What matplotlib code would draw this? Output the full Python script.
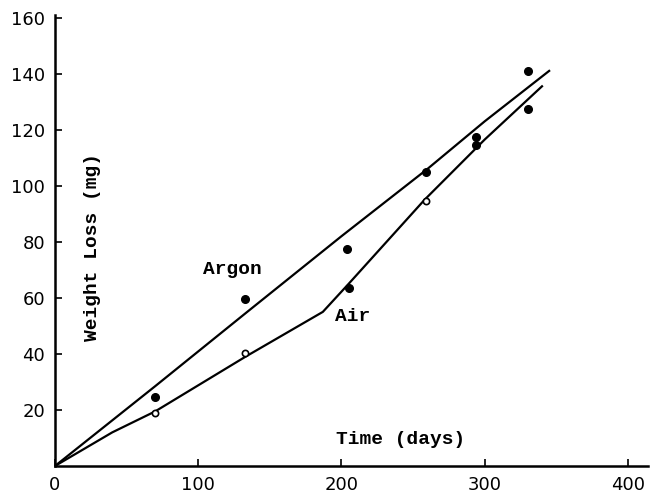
import matplotlib.pyplot as plt

# measured points
argon_days = [70, 133, 204, 259, 294, 330]
argon_loss = [24.5, 59.5, 77.5, 104.8, 117.5, 141.0]
air_days = [70, 133, 205, 259, 294, 330]
air_loss = [19.0, 40.5, 63.5, 94.5, 114.5, 127.5]
air_open = [True, True, False, True, False, False]

# hand-drawn fitted curves
argon_fit_x = [0, 70, 133, 200, 260, 300, 345]
argon_fit_y = [0, 28.5, 54.5, 82, 106, 123, 141]
air_fit_x = [0, 40, 70, 133, 187, 205, 258, 300, 340]
air_fit_y = [0, 12, 19.5, 39, 55, 65, 95, 116.5, 135.5]

xticks = [0, 100, 200, 300, 400]
yticks = [20, 40, 60, 80, 100, 120, 140, 160]

mono = ['Liberation Mono', 'DejaVu Sans Mono']

fig = plt.figure(figsize=(6.56, 4.95), dpi=100)
axes = fig.add_axes([0.0838, 0.0586, 0.904, 0.9114])

axes.plot(argon_fit_x, argon_fit_y, 'k-', lw=1.6)
axes.plot(air_fit_x, air_fit_y, 'k-', lw=1.6)

axes.plot(argon_days, argon_loss, 'ko', ms=5.5)
for x, y, is_open in zip(air_days, air_loss, air_open):
    if is_open:
        axes.plot(x, y, 'o', mfc='white', mec='k', ms=4.5, mew=1.2)
    else:
        axes.plot(x, y, 'ko', ms=5.5)

axes.text(124, 70, 'Argon', family=mono, weight='bold', fontsize=14, ha='center', va='center')
axes.text(208, 53.5, 'Air', family=mono, weight='bold', fontsize=14, ha='center', va='center')
axes.text(241, 9.3, 'Time (days)', family=mono, weight='bold', fontsize=14, ha='center', va='center')
axes.text(26.5, 78, 'Weight Loss (mg)', family=mono, weight='bold', fontsize=14,
          ha='center', va='center', rotation=90)

axes.set_xlim(0, 414)
axes.set_ylim(0, 161)
axes.set_xticks(xticks)
axes.set_yticks(yticks)
axes.tick_params(direction='in', length=5, width=1.2, labelsize=13)
axes.tick_params(axis='x', pad=7.5)
axes.tick_params(axis='y', pad=7)

for side in ['top', 'right']:
    axes.spines[side].set_visible(False)
for side in ['left', 'bottom']:
    axes.spines[side].set_linewidth(1.8)

fig.savefig('out.png', dpi=100)
